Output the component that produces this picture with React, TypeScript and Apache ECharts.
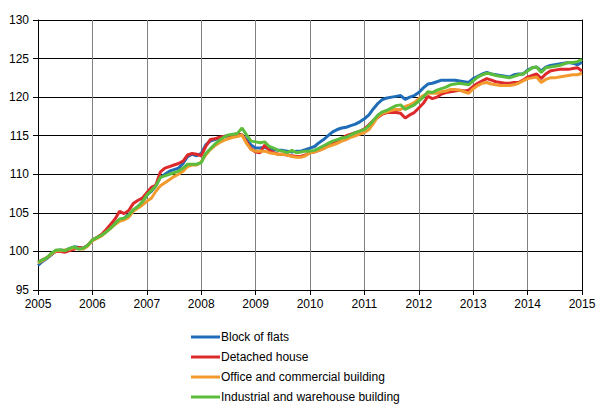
import React, { useEffect, useRef } from "react";
import * as echarts from "echarts";

const startYear = 2005;
const yearTicks = [2005, 2006, 2007, 2008, 2009, 2010, 2011, 2012, 2013, 2014, 2015];
const seriesNames = [
  "Block of flats",
  "Detached house",
  "Office and commercial building",
  "Industrial and warehouse building",
];
const colors = ["#1f6cb8", "#dc2a2c", "#f39a2e", "#5cbc3b"];

// Monthly index values, January 2005 ... January 2015
const blockOfFlats = [
  98.2, 98.7, 99.1, 99.6, 100.1, 100.2, 100.1, 100.4, 100.6, 100.5, 100.4, 100.8,
  101.4, 101.8, 102.1, 102.6, 103.1, 103.6, 104.1, 104.3, 104.8, 105.3, 105.8, 106.4,
  107.3, 107.8, 108.5, 109.6, 110.0, 110.4, 110.6, 110.8, 111.4, 112.3, 112.6, 112.4,
  112.7, 113.8, 114.3, 114.5, 114.7, 114.9, 115.0, 115.1, 115.2, 115.1, 114.5, 113.8,
  113.4, 113.4, 113.5, 113.3, 113.2, 113.1, 113.1, 113.0, 112.9, 113.0, 113.0, 113.2,
  113.4, 113.6, 114.1, 114.5, 115.0, 115.5, 115.8, 116.0, 116.1, 116.3, 116.5, 116.8,
  117.2, 117.7, 118.5, 119.2, 119.7, 119.9, 120.0, 120.1, 120.2, 119.7, 120.0, 120.2,
  120.6, 121.2, 121.7, 121.8, 122.0, 122.2, 122.2, 122.2, 122.2, 122.1, 122.0, 121.9,
  122.4, 122.7, 123.0, 123.2, 123.0, 122.9, 122.8, 122.7, 122.6, 122.9, 123.0, 123.0,
  123.5, 123.8, 123.9, 123.4, 123.9, 124.1, 124.2, 124.3, 124.4, 124.5, 124.4, 124.2,
  124.5,
];
const detachedHouse = [
  98.6, 98.9, 99.2, 99.7, 100.0, 100.0, 99.9, 100.1, 100.3, 100.5, 100.4, 100.8,
  101.5, 101.8, 102.2, 102.8, 103.5, 104.2, 105.2, 104.9, 105.3, 106.2, 106.6, 106.9,
  107.6, 108.3, 108.6, 110.3, 110.8, 111.0, 111.2, 111.4, 111.7, 112.5, 112.7, 112.6,
  112.4, 113.6, 114.5, 114.6, 114.8, 114.9, 115.0, 115.1, 115.2, 115.1, 114.2, 113.3,
  112.9, 112.8, 113.8, 113.1, 112.8, 112.6, 112.6, 112.5, 112.4, 112.3, 112.3, 112.5,
  112.8, 112.9, 113.1, 113.4, 113.7, 114.1, 114.4, 114.7, 115.0, 115.2, 115.4, 115.6,
  115.9, 116.4, 117.0, 117.4, 117.8, 118.0, 118.0, 118.0, 117.9, 117.3, 117.7, 118.0,
  118.6, 119.2, 120.1, 119.8, 120.0, 120.4, 120.6, 120.7, 120.8, 120.9, 120.8, 120.9,
  121.4, 121.8, 122.1, 122.4, 122.2, 122.0, 121.9, 121.8, 121.8, 121.9, 121.9, 122.2,
  122.6, 122.8, 123.0, 122.4, 123.0, 123.4, 123.5, 123.6, 123.6, 123.6, 123.7, 123.8,
  123.4,
];
const officeCommercial = [
  98.5, 98.8, 99.2, 99.7, 100.1, 100.1, 100.2, 100.3, 100.5, 100.3, 100.3, 100.7,
  101.4, 101.7, 102.0, 102.5, 103.0, 103.5, 103.9, 104.1, 104.4, 105.2, 105.6, 106.0,
  106.5, 106.9, 107.8, 108.5, 108.9, 109.3, 109.7, 110.0, 110.4, 111.0, 111.2, 111.2,
  111.6, 112.5, 113.2, 113.7, 114.1, 114.4, 114.6, 114.8, 114.9, 115.1, 114.0, 113.2,
  113.0, 113.0, 113.0, 112.8, 112.7, 112.6, 112.6, 112.5, 112.3, 112.2, 112.2, 112.4,
  112.8, 112.9, 113.1, 113.3, 113.6, 113.8, 114.0, 114.3, 114.5, 114.8, 115.0, 115.2,
  115.4, 115.8, 116.6, 117.5, 117.9, 118.1, 118.3, 118.4, 118.4, 118.8, 119.0, 119.3,
  119.8, 120.2, 120.5, 120.5, 120.5, 120.7, 120.8, 121.0, 121.0, 120.9, 120.7, 120.5,
  121.1, 121.5, 121.8, 121.9, 121.7, 121.6, 121.5, 121.5, 121.5, 121.6, 121.8, 122.1,
  122.4, 122.5, 122.6, 121.9, 122.3, 122.5, 122.5, 122.6, 122.7, 122.8, 122.9, 122.9,
  123.1,
];
const industrialWarehouse = [
  98.6, 98.9, 99.2, 99.8, 100.2, 100.2, 100.1, 100.4, 100.6, 100.3, 100.4, 100.8,
  101.5, 101.8, 102.1, 102.5, 103.0, 103.6, 104.2, 104.3, 104.7, 105.4, 105.8, 106.4,
  107.3, 107.9, 108.5, 109.6, 109.8, 110.0, 110.2, 110.4, 110.8, 111.3, 111.3, 111.3,
  111.5, 112.7, 113.3, 113.9, 114.4, 114.8, 115.1, 115.2, 115.3, 116.0, 115.1, 114.3,
  114.2, 114.1, 114.2, 113.6, 113.4, 113.1, 113.0, 112.8, 113.1, 112.8, 112.9, 113.0,
  113.0, 113.1, 113.4, 113.7, 114.0, 114.3, 114.5, 114.7, 114.8, 115.1, 115.4, 115.6,
  115.8, 116.3, 117.0, 117.7, 118.1, 118.3, 118.6, 118.9, 119.0, 118.4, 118.7, 119.0,
  119.5, 120.0, 120.7, 120.6, 120.9, 121.1, 121.3, 121.6, 121.7, 121.8, 121.7, 121.6,
  122.1, 122.6, 122.9, 123.1, 123.0, 122.8, 122.7, 122.6, 122.5, 122.7, 122.9, 123.0,
  123.4, 123.8, 123.9, 123.2, 123.8, 123.9, 124.0, 124.1, 124.3, 124.5, 124.5, 124.6,
  124.9,
];
const allSeries = [blockOfFlats, detachedHouse, officeCommercial, industrialWarehouse];

const FONT = "'Liberation Sans', Arial, sans-serif";

export default function App() {
  const ref = useRef<HTMLDivElement>(null);
  useEffect(() => {
    if (!ref.current) return;
    const chart = echarts.init(ref.current, undefined, { renderer: "svg" });
    chart.setOption({
      animation: false,
      backgroundColor: "#ffffff",
      textStyle: { fontFamily: FONT },
      grid: { left: 38, right: 23, top: 20, bottom: 126, containLabel: false },
      legend: {
        orient: "vertical",
        left: 186,
        top: 325,
        icon: "rect",
        itemWidth: 29,
        itemHeight: 3,
        itemGap: 6,
        textStyle: { fontFamily: FONT, fontSize: 12, color: "#000", lineHeight: 14, padding: [0, 0, 0, -4] },
        data: seriesNames,
      },
      xAxis: {
        type: "value",
        min: yearTicks[0],
        max: yearTicks[yearTicks.length - 1],
        interval: 1,
        axisLine: { show: true, lineStyle: { color: "#000", width: 1 } },
        axisTick: { show: true, length: 5, lineStyle: { color: "#000" } },
        axisLabel: {
          color: "#000",
          fontSize: 12,
          fontFamily: FONT,
          margin: 8,
          formatter: (v: number) => String(v),
        },
        splitLine: { show: true, lineStyle: { color: "#808080", width: 1 } },
      },
      yAxis: [
        {
          type: "value",
          min: 95,
          max: 130,
          interval: 5,
          axisLine: { show: true, lineStyle: { color: "#000", width: 1 } },
          axisTick: { show: true, length: 5, lineStyle: { color: "#000" } },
          axisLabel: { color: "#000", fontSize: 12, fontFamily: FONT, margin: 9 },
          splitLine: { show: true, lineStyle: { color: "#000", width: 1 } },
        },
        {
          type: "value",
          position: "right",
          min: 95,
          max: 130,
          interval: 5,
          axisLine: { show: true, onZero: false, lineStyle: { color: "#000", width: 1 } },
          axisTick: { show: false },
          axisLabel: { show: false },
          splitLine: { show: false },
        },
      ],
      series: allSeries.map((vals, k) => ({
        name: seriesNames[k],
        type: "line",
        yAxisIndex: 0,
        showSymbol: false,
        symbol: "none",
        color: colors[k],
        lineStyle: { color: colors[k], width: 3 },
        data: vals.map((v, i) => [startYear + i / 12, v]),
        z: 2 + k,
      })),
    });
    return () => chart.dispose();
  }, []);
  return <div ref={ref} style={{ width: 605, height: 416, marginLeft: -8, marginTop: -8 }} />;
}
